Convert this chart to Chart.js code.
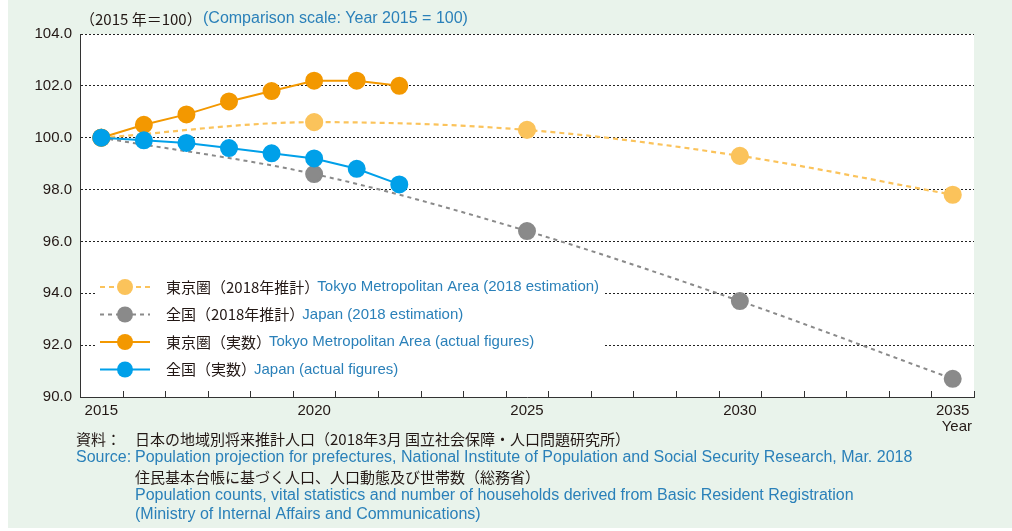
<!DOCTYPE html>
<html><head><meta charset="utf-8">
<script src="https://cdn.jsdelivr.net/npm/chart.js@4/dist/chart.umd.min.js"></script>
<style>html,body{margin:0;padding:0;background:#fff;}#wrap{width:1012px;height:531px;position:relative;}</style>
</head><body><div id="wrap"><canvas id="c"></canvas></div>
<script>
// ---- data ----
const actualYears = [2015, 2016, 2017, 2018, 2019, 2020, 2021, 2022];
const tokyoActual = [100, 100.5, 100.9, 101.4, 101.8, 102.2, 102.2, 102.0];
const japanActual = [100, 99.9, 99.8, 99.6, 99.4, 99.2, 98.8, 98.2];
const estimateYears = [2015, 2020, 2025, 2030, 2035];
const tokyoEstimate = [100, 100.6, 100.3, 99.3, 97.8];
const japanEstimate = [100, 98.6, 96.4, 93.7, 90.7];
const xTickLabels = [2015, 2020, 2025, 2030, 2035];
const yTickValues = [90, 92, 94, 96, 98, 100, 102, 104];
const legendJa = ['東京圏（2018年推計）', '全国（2018年推計）', '東京圏（実数）', '全国（実数）'];
const legendEn = ['Tokyo Metropolitan Area (2018 estimation)', 'Japan (2018 estimation)', 'Tokyo Metropolitan Area (actual figures)', 'Japan (actual figures)'];
const titleJa = '（2015 年＝100）';
const titleEn = '(Comparison scale: Year 2015 = 100)';
const xAxisName = 'Year';
const sourceLines = [
  ['資料：', '日本の地域別将来推計人口（2018年3月 国立社会保障・人口問題研究所）', 'ja'],
  ['Source:', 'Population projection for prefectures, National Institute of Population and Social Security Research, Mar. 2018', 'en'],
  ['', '住民基本台帳に基づく人口、人口動態及び世帯数（総務省）', 'ja'],
  ['', 'Population counts, vital statistics and number of households derived from Basic Resident Registration', 'en'],
  ['', '(Ministry of Internal Affairs and Communications)', 'en']
];

const C_TOKYO = '#f39800', C_JAPAN = '#00a0e9', C_TOKYO_EST = '#fbc35b', C_JAPAN_EST = '#8a8a8a';
const TXT = '#231815', BLUE = '#2a80b9';
const JA = '"Noto Sans CJK JP", sans-serif';
const EN = '"Liberation Sans", Arial, sans-serif';

const toXY = (xs, ys) => xs.map((x, i) => ({x, y: ys[i]}));

const bgPlugin = {
  id: 'bg',
  beforeDraw(chart) {
    const {ctx, chartArea: a} = chart;
    ctx.save();
    ctx.fillStyle = '#fff'; ctx.fillRect(0, 0, chart.width, chart.height);
    ctx.fillStyle = '#e9f3eb'; ctx.fillRect(8, 0, chart.width - 8, 528);
    ctx.fillStyle = '#fff'; ctx.fillRect(a.left, a.top, a.right - a.left, a.bottom - a.top);
    ctx.restore();
  }
};

const legendPlugin = {
  id: 'customLegend',
  beforeDatasetsDraw(chart) {
    const {ctx} = chart;
    const ds = chart.data.datasets;
    const order = [3, 2, 1, 0];
    const rowY = [287, 314.5, 342, 369.5];
    ctx.save();
    ctx.fillStyle = '#fff';
    ctx.fillRect(96, 273, 508, 112);
    order.forEach((di, r) => {
      const d = ds[di], y = rowY[r];
      ctx.strokeStyle = d.borderColor; ctx.lineWidth = d.borderWidth;
      ctx.setLineDash(d.borderDash || []);
      ctx.beginPath(); ctx.moveTo(100, y); ctx.lineTo(150, y); ctx.stroke();
      ctx.setLineDash([]);
      ctx.fillStyle = d.pointBackgroundColor;
      ctx.beginPath(); ctx.arc(125, y, 8, 0, Math.PI * 2); ctx.fill();
      ctx.textBaseline = 'middle'; ctx.textAlign = 'left';
      ctx.font = '15px ' + JA; ctx.fillStyle = TXT;
      ctx.fillText(legendJa[r], 166, y);
      const w = ctx.measureText(legendJa[r]).width;
      ctx.font = '15px ' + EN; ctx.fillStyle = BLUE;
      ctx.fillText(legendEn[r], 166 + w - 2, y);
    });
    ctx.restore();
  }
};

const decoPlugin = {
  id: 'deco',
  afterDraw(chart) {
    const {ctx, chartArea: a} = chart;
    const xs = chart.scales.x;
    ctx.save();
    // inward year ticks at year boundaries
    ctx.strokeStyle = '#333'; ctx.lineWidth = 1;
    for (let k = 1; k <= 21; k++) {
      const px = Math.round(xs.getPixelForValue(2014.5 + k)) + 0.5;
      ctx.beginPath(); ctx.moveTo(px, a.bottom); ctx.lineTo(px, a.bottom - 6); ctx.stroke();
    }
    ctx.textBaseline = 'middle';
    // title
    ctx.textAlign = 'left';
    ctx.font = '15px ' + JA; ctx.fillStyle = TXT;
    ctx.fillText(titleJa, 80, 19);
    ctx.font = '16px ' + EN; ctx.fillStyle = BLUE;
    ctx.fillText(titleEn, 203, 19);
    // Year
    ctx.textAlign = 'right'; ctx.font = '15px ' + EN; ctx.fillStyle = TXT;
    ctx.fillText(xAxisName, 972, 427);
    // sources
    ctx.textAlign = 'left';
    const ys = [439, 458, 477, 496, 515];
    sourceLines.forEach((ln, i) => {
      const isJa = ln[2] === 'ja';
      ctx.fillStyle = isJa ? TXT : BLUE;
      ctx.font = isJa ? '15px ' + JA : '16px ' + EN;
      if (ln[0]) ctx.fillText(ln[0], 76, ys[i]);
      ctx.fillText(ln[1], 135, ys[i]);
    });
    ctx.restore();
  }
};

new Chart(document.getElementById('c'), {
  type: 'line',
  data: {
    datasets: [
      {label: legendJa[3], data: toXY(actualYears, japanActual), borderColor: C_JAPAN, pointBackgroundColor: C_JAPAN, borderWidth: 2, tension: 0},
      {label: legendJa[2], data: toXY(actualYears, tokyoActual), borderColor: C_TOKYO, pointBackgroundColor: C_TOKYO, borderWidth: 2, tension: 0},
      {label: legendJa[1], data: toXY(estimateYears, japanEstimate), borderColor: C_JAPAN_EST, pointBackgroundColor: C_JAPAN_EST, borderWidth: 2, borderDash: [4, 4], cubicInterpolationMode: 'monotone'},
      {label: legendJa[0], data: toXY(estimateYears, tokyoEstimate), borderColor: C_TOKYO_EST, pointBackgroundColor: C_TOKYO_EST, borderWidth: 2.2, borderDash: [5, 4], cubicInterpolationMode: 'monotone'}
    ]
  },
  options: {
    responsive: true, maintainAspectRatio: false, animation: false,
    layout: {padding: {left: 0, top: 34, right: 38, bottom: 0}},
    elements: {point: {radius: 8, hoverRadius: 8, borderWidth: 0}, line: {fill: false}},
    plugins: {legend: {display: false}, tooltip: {enabled: false}, title: {display: false}},
    scales: {
      x: {
        type: 'linear', min: 2014.5, max: 2035.5,
        afterBuildTicks: s => { s.ticks = xTickLabels.map(v => ({value: v})); },
        afterFit: s => { s.height = 134; },
        grid: {display: false, drawTicks: false},
        border: {display: true, color: '#333', width: 1},
        ticks: {padding: 5, color: TXT, font: {family: EN, size: 15}, maxRotation: 0, autoSkip: false, callback: v => String(v)}
      },
      y: {
        min: 90, max: 104,
        afterBuildTicks: s => { s.ticks = yTickValues.map(v => ({value: v})); },
        afterFit: s => { s.width = 80; },
        grid: {color: '#222', lineWidth: 1, drawTicks: false},
        border: {display: true, color: '#333', width: 1, dash: [2, 2]},
        ticks: {padding: 8, color: TXT, font: {family: EN, size: 15}, callback: v => Number(v).toFixed(1)}
      }
    }
  },
  plugins: [bgPlugin, legendPlugin, decoPlugin]
});
</script></body></html>
